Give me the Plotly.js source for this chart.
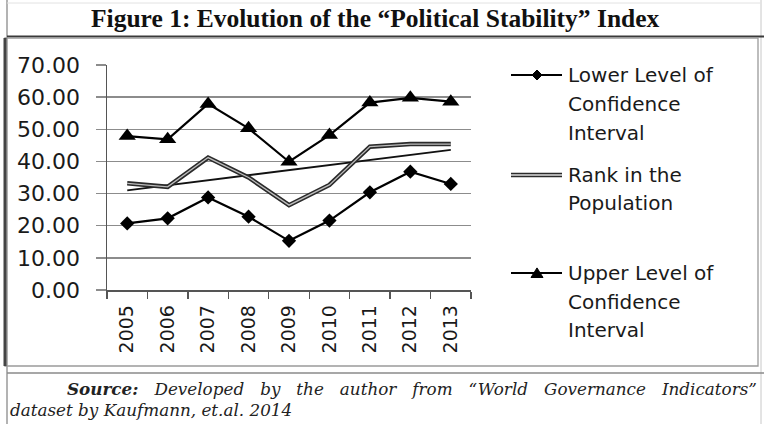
<!DOCTYPE html>
<html><head><meta charset="utf-8">
<script src="https://cdn.plot.ly/plotly-3.0.1.min.js"></script>
<style>html,body{margin:0;padding:0;background:#fff;} #chart{width:764px;height:424px;}</style>
</head><body><div id="chart"></div>
<script>
// ---- data ----
const years = ['2005','2006','2007','2008','2009','2010','2011','2012','2013'];
const lowerCI = [20.7, 22.3, 28.8, 22.8, 15.3, 21.6, 30.4, 36.8, 33.0];
const rankPop = [33.2, 32.1, 41.2, 35.0, 26.4, 32.7, 44.6, 45.4, 45.4];
const upperCI = [47.9, 46.9, 57.9, 50.3, 39.9, 48.2, 58.3, 59.8, 58.6];
const trendYears = ['2005', '2013'];
const trendRank = [31.0, 43.6];
const yTickVals = [0, 10, 20, 30, 40, 50, 60, 70];
const seriesNames = ['Lower Level of Confidence Interval', 'Rank in the Population', 'Upper Level of Confidence Interval'];
const titleText = 'Figure 1: Evolution of the “Political Stability” Index';
const sourceWords = ['<b>Source:</b>', 'Developed', 'by', 'the', 'author', 'from', '“World', 'Governance', 'Indicators”'];
const sourceLine2 = 'dataset by Kaufmann, et.al. 2014';

// ---- layout helpers (pixel -> paper) ----
const W = 764, H = 424;
const PX = p => p / W;
const PY = p => 1 - p / H;

const xTickFont = {family: 'DejaVu Sans', size: 19, color: '#1a1a1a'};
const yTickFont = {family: 'DejaVu Sans', size: 22, color: '#1a1a1a'};

const traces = [
  {x: trendYears, y: trendRank, type: 'scatter', mode: 'lines', showlegend: false,
   line: {color: '#111', width: 1.8}, hoverinfo: 'skip'},
  {x: years, y: rankPop, type: 'scatter', mode: 'lines', name: seriesNames[1], showlegend: false,
   line: {color: '#2a2a2a', width: 4.5}},
  {x: years, y: rankPop, type: 'scatter', mode: 'lines', showlegend: false,
   line: {color: '#bdbdbd', width: 1.3}, hoverinfo: 'skip'},
  {x: years, y: lowerCI, type: 'scatter', mode: 'lines+markers', name: seriesNames[0], showlegend: false,
   line: {color: '#000', width: 2.2}, marker: {symbol: 'diamond', size: 11, color: '#000'}},
  {x: years, y: upperCI, type: 'scatter', mode: 'lines+markers', name: seriesNames[2], showlegend: false,
   line: {color: '#000', width: 2.2}, marker: {symbol: 'triangle-up', size: 15, color: '#000'}}
];

// legend geometry
const legX0 = 511, legX1 = 562, legMid = 537, legTextX = 566;
const legRows = [75, 175, 273];
function diamondPath(cx, cy, r) {
  return 'M' + PX(cx - r) + ',' + PY(cy) + ' L' + PX(cx) + ',' + PY(cy - r) + ' L' + PX(cx + r) + ',' + PY(cy) + ' L' + PX(cx) + ',' + PY(cy + r) + ' Z';
}
function trianglePath(cx, cy, r) {
  return 'M' + PX(cx - r) + ',' + PY(cy + r * 0.75) + ' L' + PX(cx + r) + ',' + PY(cy + r * 0.75) + ' L' + PX(cx) + ',' + PY(cy - r * 0.85) + ' Z';
}

const shapes = [
  // page/table lines
  {type: 'line', xref: 'paper', yref: 'paper', x0: PX(7), x1: PX(7), y0: PY(0), y1: PY(424), line: {color: '#9a9a9a', width: 1.5}},
  {type: 'line', xref: 'paper', yref: 'paper', x0: PX(761), x1: PX(761), y0: PY(0), y1: PY(424), line: {color: '#c8c8c8', width: 1}},
  {type: 'line', xref: 'paper', yref: 'paper', x0: PX(7), x1: PX(761), y0: PY(3), y1: PY(3), line: {color: '#e2e2e2', width: 1}},
  {type: 'line', xref: 'paper', yref: 'paper', x0: PX(7), x1: PX(764), y0: PY(36.5), y1: PY(36.5), line: {color: '#3a3a3a', width: 2}},
  {type: 'line', xref: 'paper', yref: 'paper', x0: PX(7), x1: PX(764), y0: PY(373), y1: PY(373), line: {color: '#8a8a8a', width: 1.3}},
  // chart box
  {type: 'rect', xref: 'paper', yref: 'paper', x0: PX(5), x1: PX(758), y0: PY(38), y1: PY(366), line: {color: '#9a9a9a', width: 1.3}},
  {type: 'line', xref: 'paper', yref: 'paper', x0: PX(5), x1: PX(5), y0: PY(38), y1: PY(366), line: {color: '#444', width: 3}},
  // legend symbols
  {type: 'line', xref: 'paper', yref: 'paper', x0: PX(legX0), x1: PX(legX1), y0: PY(legRows[0]), y1: PY(legRows[0]), line: {color: '#000', width: 2}},
  {type: 'path', xref: 'paper', yref: 'paper', path: diamondPath(legMid, legRows[0], 5), fillcolor: '#000', line: {color: '#000', width: 1}},
  {type: 'line', xref: 'paper', yref: 'paper', x0: PX(legX0), x1: PX(legX1), y0: PY(legRows[1]), y1: PY(legRows[1]), line: {color: '#2a2a2a', width: 4.5}},
  {type: 'line', xref: 'paper', yref: 'paper', x0: PX(legX0), x1: PX(legX1), y0: PY(legRows[1]), y1: PY(legRows[1]), line: {color: '#dcdcdc', width: 1.3}},
  {type: 'line', xref: 'paper', yref: 'paper', x0: PX(legX0), x1: PX(legX1), y0: PY(legRows[2]), y1: PY(legRows[2]), line: {color: '#000', width: 2}},
  {type: 'path', xref: 'paper', yref: 'paper', path: trianglePath(legMid, legRows[2], 6), fillcolor: '#000', line: {color: '#000', width: 1}}
];

const legendFont = {family: 'DejaVu Sans', size: 20, color: '#1a1a1a'};
const legendLines = [
  ['Lower Level of', 75], ['Confidence', 104], ['Interval', 133],
  ['Rank in the', 175], ['Population', 203],
  ['Upper Level of', 273], ['Confidence', 302], ['Interval', 330]
];
const sourceFont = {family: 'DejaVu Serif', size: 16.8, color: '#222'};
const annotations = [
  {text: titleText, xref: 'paper', yref: 'paper', x: PX(375), y: PY(19), xanchor: 'center', yanchor: 'middle', showarrow: false,
   font: {family: 'Liberation Serif', size: 25.5, color: '#111', weight: 'bold'}},
  {text: '<i>' + sourceWords.join(' \u00a0\u00a0') + '</i>', xref: 'paper', yref: 'paper', x: PX(65), y: PY(389), xanchor: 'left', yanchor: 'middle', showarrow: false,
   font: sourceFont},
  {text: '<i>' + sourceLine2 + '</i>', xref: 'paper', yref: 'paper', x: PX(8), y: PY(410), xanchor: 'left', yanchor: 'middle', showarrow: false,
   font: sourceFont}
].concat(legendLines.map(([t, y]) => ({
  text: t, xref: 'paper', yref: 'paper', x: PX(legTextX), y: PY(y), xanchor: 'left', yanchor: 'middle', showarrow: false, font: legendFont
})));

const layout = {
  width: W, height: H,
  margin: {l: 0, r: 0, t: 0, b: 0, pad: 0},
  paper_bgcolor: '#fff', plot_bgcolor: 'rgba(0,0,0,0)',
  showlegend: false,
  xaxis: {
    type: 'category', categoryorder: 'array', categoryarray: years,
    domain: [PX(107), PX(471)], range: [-0.5, 8.5],
    showgrid: false, zeroline: false,
    showline: true, linecolor: '#555', linewidth: 1.5,
    ticks: 'outside', tickson: 'boundaries', ticklen: 7, tickcolor: '#555', tickwidth: 1.3,
    tickangle: -90, tickfont: xTickFont, ticklabelstandoff: 6, automargin: false, fixedrange: true
  },
  yaxis: {
    domain: [PY(290), PY(65)], range: [0, 70],
    tickvals: yTickVals, tickformat: '.2f',
    showgrid: true, gridcolor: '#8c8c8c', gridwidth: 1.3, zeroline: false,
    showline: true, linecolor: '#555', linewidth: 1.5,
    ticks: 'outside', ticklen: 10, tickcolor: '#8c8c8c', tickwidth: 1.3,
    tickfont: yTickFont, ticklabelstandoff: 11, automargin: false, fixedrange: true
  },
  shapes: shapes,
  annotations: annotations
};

Plotly.newPlot('chart', traces, layout, {staticPlot: true, displayModeBar: false});
</script>
</body></html>
